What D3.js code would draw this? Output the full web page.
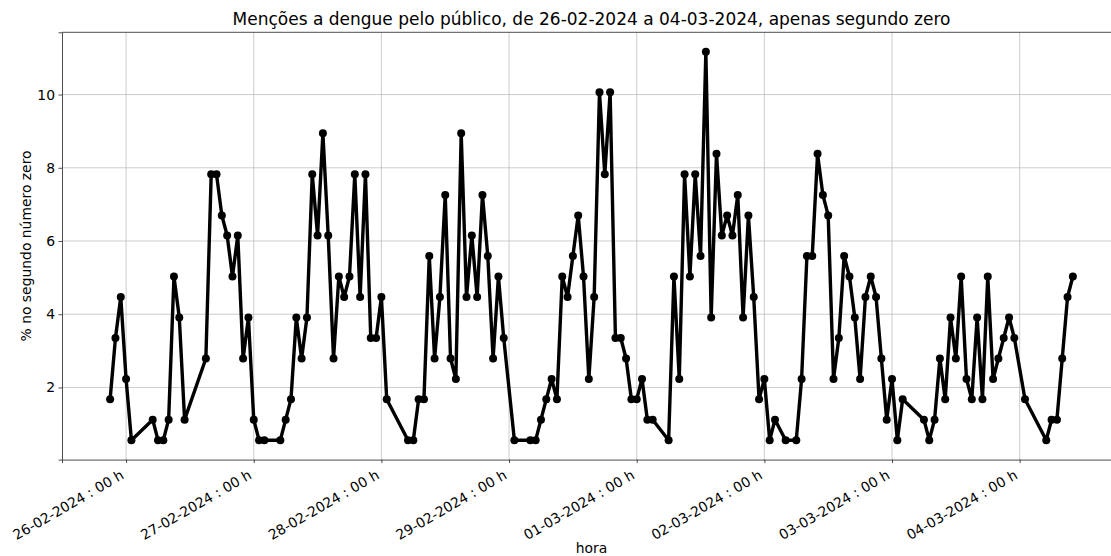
<!DOCTYPE html>
<html>
<head>
<meta charset="utf-8">
<script src="https://cdn.jsdelivr.net/npm/d3@7"></script>
<style>
  html, body { margin: 0; padding: 0; background: #fff; }
  svg { display: block; font-family: "DejaVu Sans", sans-serif; }
</style>
</head>
<body>
<svg id="chart" width="1111" height="556"></svg>
<script>
// ---- data (hourly timestamps, UTC) ----
const times = [
  "2024-02-25T21","2024-02-25T22","2024-02-25T23",
  "2024-02-26T00","2024-02-26T01","2024-02-26T05","2024-02-26T06","2024-02-26T07","2024-02-26T08","2024-02-26T09","2024-02-26T10","2024-02-26T11","2024-02-26T15","2024-02-26T16","2024-02-26T17","2024-02-26T18","2024-02-26T19","2024-02-26T20","2024-02-26T21","2024-02-26T22","2024-02-26T23",
  "2024-02-27T00","2024-02-27T01","2024-02-27T02","2024-02-27T05","2024-02-27T06","2024-02-27T07","2024-02-27T08","2024-02-27T09","2024-02-27T10","2024-02-27T11","2024-02-27T12","2024-02-27T13","2024-02-27T14","2024-02-27T15","2024-02-27T16","2024-02-27T17","2024-02-27T18","2024-02-27T19","2024-02-27T20","2024-02-27T21","2024-02-27T22","2024-02-27T23",
  "2024-02-28T00","2024-02-28T01","2024-02-28T05","2024-02-28T06","2024-02-28T07","2024-02-28T08","2024-02-28T09","2024-02-28T10","2024-02-28T11","2024-02-28T12","2024-02-28T13","2024-02-28T14","2024-02-28T15","2024-02-28T16","2024-02-28T17","2024-02-28T18","2024-02-28T19","2024-02-28T20","2024-02-28T21","2024-02-28T22","2024-02-28T23",
  "2024-02-29T01","2024-02-29T04","2024-02-29T05","2024-02-29T06","2024-02-29T07","2024-02-29T08","2024-02-29T09","2024-02-29T10","2024-02-29T11","2024-02-29T12","2024-02-29T13","2024-02-29T14","2024-02-29T15","2024-02-29T16","2024-02-29T17","2024-02-29T18","2024-02-29T19","2024-02-29T20","2024-02-29T21","2024-02-29T22","2024-02-29T23",
  "2024-03-01T00","2024-03-01T01","2024-03-01T02","2024-03-01T03","2024-03-01T06","2024-03-01T07","2024-03-01T08","2024-03-01T09","2024-03-01T10","2024-03-01T11","2024-03-01T12","2024-03-01T13","2024-03-01T14","2024-03-01T15","2024-03-01T16","2024-03-01T17","2024-03-01T18","2024-03-01T19","2024-03-01T20","2024-03-01T21","2024-03-01T22","2024-03-01T23",
  "2024-03-02T00","2024-03-02T01","2024-03-02T02","2024-03-02T04","2024-03-02T06","2024-03-02T07","2024-03-02T08","2024-03-02T09","2024-03-02T10","2024-03-02T11","2024-03-02T12","2024-03-02T13","2024-03-02T14","2024-03-02T15","2024-03-02T16","2024-03-02T17","2024-03-02T18","2024-03-02T19","2024-03-02T20","2024-03-02T21","2024-03-02T22","2024-03-02T23",
  "2024-03-03T00","2024-03-03T01","2024-03-03T02","2024-03-03T06","2024-03-03T07","2024-03-03T08","2024-03-03T09","2024-03-03T10","2024-03-03T11","2024-03-03T12","2024-03-03T13","2024-03-03T14","2024-03-03T15","2024-03-03T16","2024-03-03T17","2024-03-03T18","2024-03-03T19","2024-03-03T20","2024-03-03T21","2024-03-03T22","2024-03-03T23",
  "2024-03-04T01","2024-03-04T05","2024-03-04T06","2024-03-04T07","2024-03-04T08","2024-03-04T09","2024-03-04T10"
];
const values = [
  1.68, 3.35, 4.47,
  2.23, 0.56, 1.12, 0.56, 0.56, 1.12, 5.03, 3.91, 1.12, 2.79, 7.82, 7.82, 6.70, 6.15, 5.03, 6.15, 2.79, 3.91,
  1.12, 0.56, 0.56, 0.56, 1.12, 1.68, 3.91, 2.79, 3.91, 7.82, 6.15, 8.94, 6.15, 2.79, 5.03, 4.47, 5.03, 7.82, 4.47, 7.82, 3.35, 3.35,
  4.47, 1.68, 0.56, 0.56, 1.68, 1.68, 5.59, 2.79, 4.47, 7.26, 2.79, 2.23, 8.94, 4.47, 6.15, 4.47, 7.26, 5.59, 2.79, 5.03, 3.35,
  0.56, 0.56, 0.56, 1.12, 1.68, 2.23, 1.68, 5.03, 4.47, 5.59, 6.70, 5.03, 2.23, 4.47, 10.06, 7.82, 10.06, 3.35, 3.35, 2.79, 1.68,
  1.68, 2.23, 1.12, 1.12, 0.56, 5.03, 2.23, 7.82, 5.03, 7.82, 5.59, 11.17, 3.91, 8.38, 6.15, 6.70, 6.15, 7.26, 3.91, 6.70, 4.47, 1.68,
  2.23, 0.56, 1.12, 0.56, 0.56, 2.23, 5.59, 5.59, 8.38, 7.26, 6.70, 2.23, 3.35, 5.59, 5.03, 3.91, 2.23, 4.47, 5.03, 4.47, 2.79, 1.12,
  2.23, 0.56, 1.68, 1.12, 0.56, 1.12, 2.79, 1.68, 3.91, 2.79, 5.03, 2.23, 1.68, 3.91, 1.68, 5.03, 2.23, 2.79, 3.35, 3.91, 3.35,
  1.68, 0.56, 1.12, 1.12, 2.79, 4.47, 5.03
];
const yTicks = [2, 4, 6, 8, 10];
const xTicks = ["2024-02-26","2024-02-27","2024-02-28","2024-02-29","2024-03-01","2024-03-02","2024-03-03","2024-03-04"];
const titleText = "Menções a dengue pelo público, de 26-02-2024 a 04-03-2024, apenas segundo zero";
const xLabel = "hora";
const yLabel = "% no segundo número zero";

// ---- layout ----
const W = 1111, H = 556;
const mLeft = 62, mRight = 1121, mTop = 32.3, mBottom = 459.6;
const FONT = "DejaVu Sans, sans-serif";
const FS = 13.9;

const parse = d3.utcParse("%Y-%m-%dT%H");
const parseDay = d3.utcParse("%Y-%m-%d");
const data = times.map((t, i) => ({ t: parse(t), v: values[i] }));

const tExt = d3.extent(data, d => d.t);
const tPad = (tExt[1] - tExt[0]) * 0.05;
const x = d3.scaleUtc()
  .domain([new Date(+tExt[0] - tPad), new Date(+tExt[1] + tPad)])
  .range([mLeft, mRight]);

const vExt = d3.extent(values);
const vPad = (vExt[1] - vExt[0]) * 0.05;
const y = d3.scaleLinear()
  .domain([vExt[0] - vPad, vExt[1] + vPad])
  .range([mBottom, mTop]);

const svg = d3.select("#chart");
svg.append("rect").attr("width", W).attr("height", H).attr("fill", "#fff");

const fmt = d3.utcFormat("%d-%m-%Y : %H h");
const xTickDates = xTicks.map(parseDay);

// grid
const grid = svg.append("g");
grid.selectAll("line.gx").data(xTickDates).join("line")
  .attr("x1", d => x(d)).attr("x2", d => x(d))
  .attr("y1", mTop).attr("y2", mBottom)
  .attr("stroke", "#b0b0b0").attr("stroke-opacity", 0.8).attr("stroke-width", 0.8);
grid.selectAll("line.gy").data(yTicks).join("line")
  .attr("x1", mLeft).attr("x2", mRight)
  .attr("y1", d => y(d)).attr("y2", d => y(d))
  .attr("stroke", "#b0b0b0").attr("stroke-opacity", 0.8).attr("stroke-width", 0.8);

// line + markers
const line = d3.line().x(d => x(d.t)).y(d => y(d.v));
svg.append("path").datum(data)
  .attr("d", line)
  .attr("fill", "none").attr("stroke", "#000")
  .attr("stroke-width", 3.4).attr("stroke-linejoin", "round");
svg.append("g").selectAll("circle").data(data).join("circle")
  .attr("cx", d => x(d.t)).attr("cy", d => y(d.v))
  .attr("r", 4).attr("fill", "#000");

// axes
const xAxis = d3.axisBottom(x).tickValues(xTickDates).tickFormat(fmt).tickSizeOuter(0).tickSize(3.5).tickPadding(3.5);
const gx = svg.append("g").attr("transform", `translate(0,${mBottom})`).call(xAxis)
  .attr("font-family", FONT).attr("font-size", FS);
gx.select(".domain").attr("stroke", "#222").attr("stroke-width", 0.8);
gx.selectAll(".tick line").attr("stroke", "#222").attr("stroke-width", 0.8);
gx.selectAll(".tick text")
  .attr("fill", "#000")
  .attr("text-anchor", "end")
  .attr("y", 0).attr("dy", "0")
  .attr("transform", "translate(-1.6,18.2) rotate(-30)");

const yAxis = d3.axisLeft(y).tickValues(yTicks).tickFormat(d3.format("d")).tickSizeOuter(0).tickSize(3.5).tickPadding(3.5);
const gy = svg.append("g").attr("transform", `translate(${mLeft},0)`).call(yAxis)
  .attr("font-family", FONT).attr("font-size", FS);
gy.select(".domain").attr("stroke", "#222").attr("stroke-width", 0.8);
gy.selectAll(".tick line").attr("stroke", "#222").attr("stroke-width", 0.8);
gy.selectAll(".tick text").attr("fill", "#000");

// top spine
svg.append("line").attr("x1", mLeft).attr("x2", mRight).attr("y1", mTop).attr("y2", mTop)
  .attr("stroke", "#222").attr("stroke-width", 0.8);

// labels
svg.append("text").attr("x", (mLeft + mRight) / 2).attr("y", 24.5)
  .attr("text-anchor", "middle").attr("font-size", 17).attr("fill", "#000")
  .text(titleText);
svg.append("text").attr("x", (mLeft + mRight) / 2).attr("y", 553)
  .attr("text-anchor", "middle").attr("font-size", FS).attr("fill", "#000")
  .text(xLabel);
svg.append("text")
  .attr("transform", `translate(31,${(mTop + mBottom) / 2}) rotate(-90)`)
  .attr("text-anchor", "middle").attr("font-size", FS).attr("fill", "#000")
  .text(yLabel);
</script>
</body>
</html>
